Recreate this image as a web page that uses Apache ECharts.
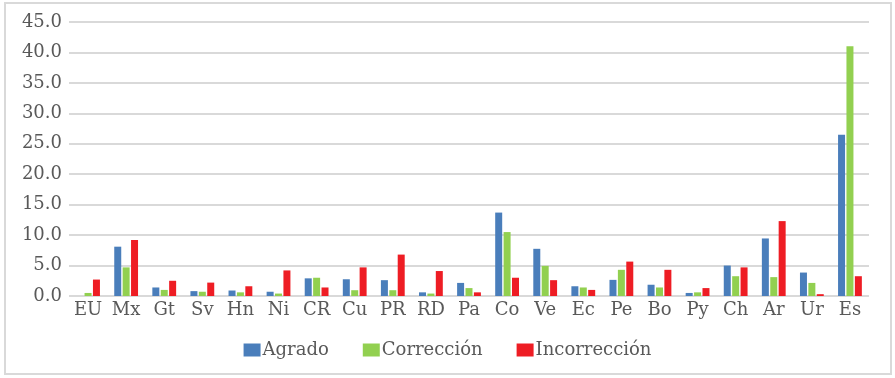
<!DOCTYPE html>
<html>
<head>
<meta charset="utf-8">
<script src="https://cdn.jsdelivr.net/npm/echarts@6/dist/echarts.min.js"></script>
<style>
html,body{margin:0;padding:0;background:#fff;}
#chart{width:895px;height:378px;}
</style>
</head>
<body>
<div id="chart"></div>
<script>
const categories = ['EU','Mx','Gt','Sv','Hn','Ni','CR','Cu','PR','RD','Pa','Co','Ve','Ec','Pe','Bo','Py','Ch','Ar','Ur','Es'];
const agrado      = [0.0, 8.1, 1.4, 0.8, 0.9, 0.7, 2.9, 2.75, 2.6, 0.6, 2.15, 13.7, 7.75, 1.6, 2.65, 1.85, 0.5, 5.0, 9.45, 3.85, 26.5];
const correccion  = [0.5, 4.7, 1.0, 0.7, 0.6, 0.4, 3.0, 0.95, 0.95, 0.4, 1.3, 10.5, 4.95, 1.4, 4.3, 1.4, 0.6, 3.25, 3.1, 2.15, 41.0];
const incorreccion= [2.7, 9.2, 2.5, 2.2, 1.6, 4.2, 1.4, 4.7, 6.8, 4.1, 0.6, 3.0, 2.6, 1.0, 5.65, 4.3, 1.3, 4.7, 12.3, 0.3, 3.25];
const seriesNames = ['Agrado','Corrección','Incorrección'];
const yTicks = {min: 0, max: 45, interval: 5};

const FONT = 'DejaVu Serif';
const TXT = '#595959';
const colors = ['#4A7EBB', '#92D050', '#EE1D24'];

const chart = echarts.init(document.getElementById('chart'), null, {renderer: 'canvas'});
const dataSets = [agrado, correccion, incorreccion];
chart.setOption({
  animation: false,
  color: colors,
  textStyle: {fontFamily: FONT, color: TXT},
  graphic: [{
    type: 'rect',
    shape: {x: 5, y: 3, width: 886, height: 371},
    style: {fill: 'none', stroke: '#d9d9d9', lineWidth: 2},
    silent: true
  }],
  grid: {left: 69, right: 26, top: 22, bottom: 82, containLabel: false},
  legend: {
    bottom: 14,
    left: 'center',
    itemWidth: 17,
    itemHeight: 13,
    itemGap: 34,
    icon: 'rect',
    textStyle: {fontFamily: FONT, fontSize: 18, color: TXT, padding: [0, 0, 0, -3]},
    data: seriesNames
  },
  xAxis: {
    type: 'category',
    data: categories,
    axisLine: {show: false},
    axisTick: {show: false},
    axisLabel: {fontFamily: FONT, fontSize: 18, color: TXT, margin: 5}
  },
  yAxis: {
    type: 'value',
    min: yTicks.min, max: yTicks.max, interval: yTicks.interval,
    axisLine: {show: false},
    axisTick: {show: false},
    splitLine: {lineStyle: {color: '#d9d9d9', width: 2}},
    axisLabel: {fontFamily: FONT, fontSize: 18, color: TXT, margin: 7,
      formatter: v => v.toFixed(1)}
  },
  series: seriesNames.map((n, i) => ({
    name: n,
    type: 'bar',
    data: dataSets[i],
    barWidth: 7,
    barGap: '20%',
    itemStyle: {color: colors[i]}
  }))
});
</script>
</body>
</html>
